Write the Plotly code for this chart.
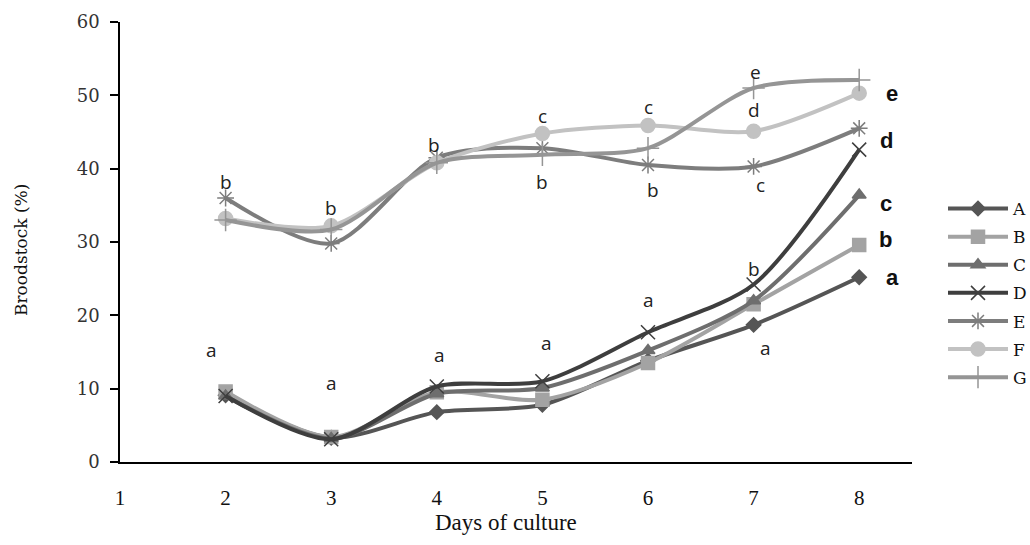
import plotly.graph_objects as go

days = [2, 3, 4, 5, 6, 7, 8]
series_names = ["A", "B", "C", "D", "E", "F", "G"]
A = [9.1, 3.3, 6.8, 7.8, 13.8, 18.7, 25.2]
B = [9.6, 3.4, 9.5, 8.5, 13.5, 21.5, 29.6]
C = [9.0, 3.2, 9.3, 10.1, 15.2, 22.0, 36.4]
D = [9.0, 3.1, 10.3, 11.0, 17.7, 24.2, 42.6]
E = [36.0, 29.8, 41.5, 42.8, 40.5, 40.3, 45.5]
F = [33.2, 32.2, 40.8, 44.8, 45.9, 45.1, 50.3]
G = [33.0, 31.7, 40.8, 41.9, 42.8, 51.0, 52.1]
series_values = [A, B, C, D, E, F, G]

x_tick_labels = ["1", "2", "3", "4", "5", "6", "7", "8"]
y_tick_values = [0, 10, 20, 30, 40, 50, 60]

# significance letters (text, day, value)
letter_text = ["b", "b", "b", "c", "b", "c", "b", "e", "d", "c",
               "a", "a", "a", "a", "a", "b", "a"]
letter_day = [2.0, 3.0, 3.97, 5.0, 5.0, 6.0, 6.05, 7.02, 7.0, 7.07,
              1.87, 3.0, 4.03, 5.04, 6.0, 7.0, 7.11]
letter_val = [38.2, 34.6, 43.2, 47.2, 38.2, 48.4, 37.1, 53.2, 48.0, 37.8,
              15.3, 10.8, 14.6, 16.2, 22.1, 26.3, 15.5]

end_text = ["e", "d", "c", "b", "a"]
end_day = [8.31, 8.26, 8.25, 8.25, 8.32]
end_val = [50.3, 43.9, 35.3, 30.3, 25.2]

colors = ["#555555", "#a3a3a3", "#6e6e6e", "#3e3e3e", "#7d7d7d", "#c2c2c2", "#959595"]
symbols = ["diamond", "square", "triangle-up", "x-thin-open", "asterisk-open",
           "circle", "cross-thin-open"]
msizes = [11, 13, 12, 14, 14, 14, 16]

fig = go.Figure()
for name, vals, col, sym, ms in zip(series_names, series_values, colors, symbols, msizes):
    fig.add_trace(go.Scatter(
        x=days, y=vals, name=name, mode="lines+markers",
        line=dict(color=col, width=4, shape="spline", smoothing=0.8),
        marker=dict(symbol=sym, size=ms, color=col,
                    line=dict(color=col, width=1.5)),
        legendgroup=name,
    ))

for t, xd, yv in zip(letter_text, letter_day, letter_val):
    fig.add_annotation(x=xd, y=yv, text=t, showarrow=False, xref="x", yref="y",
                       font=dict(family="Open Sans", size=19, color="#222222"))
for t, xd, yv in zip(end_text, end_day, end_val):
    fig.add_annotation(x=xd, y=yv, text="<b>" + t + "</b>", showarrow=False,
                       xref="x", yref="y",
                       font=dict(family="Liberation Sans", size=22, color="#111111"))

fig.add_annotation(x=(506 - 120) / 792, y=-(522 - 462) / 440, xref="paper", yref="paper",
                   xanchor="center", yanchor="middle",
                   text="Days of culture", showarrow=False,
                   font=dict(family="Liberation Serif", size=23, color="#111111"))

fig.add_annotation(x=-(120 - 21) / 792, y=(462 - 250) / 440, xref="paper", yref="paper",
                   xanchor="center", yanchor="middle", textangle=-90,
                   text="Broodstock (%)", showarrow=False,
                   font=dict(family="DejaVu Serif", size=17, color="#111111"))

fig.update_layout(
    width=1030, height=545,
    margin=dict(l=120, r=118, t=22, b=83, autoexpand=False),
    paper_bgcolor="white", plot_bgcolor="white",
    showlegend=True,
    legend=dict(x=943 / 1030, y=1 - 191 / 545, xref="container", yref="container",
                xanchor="left", yanchor="top",
                font=dict(family="DejaVu Serif", size=17, color="#111111"),
                tracegroupgap=3, itemwidth=60, bgcolor="rgba(0,0,0,0)"),
    xaxis=dict(range=[1, 8.5], tickmode="array",
               tickvals=[1, 2, 3, 4, 5, 6, 7, 8], ticktext=x_tick_labels,
               showline=True, linecolor="black", linewidth=1.5,
               showgrid=False, zeroline=False, ticks="",
               ticklabelstandoff=16,
               tickfont=dict(family="Liberation Serif", size=21, color="#111111")),
    yaxis=dict(range=[0, 60], tickmode="array", tickvals=y_tick_values,
               showline=True, linecolor="black", linewidth=1.5,
               showgrid=False, zeroline=False, ticks="outside", ticklen=8,
               tickcolor="black", tickwidth=1.5, ticklabelstandoff=7,
               tickfont=dict(family="DejaVu Serif", size=18, color="#333333")),
)

fig.write_html("out.html")
